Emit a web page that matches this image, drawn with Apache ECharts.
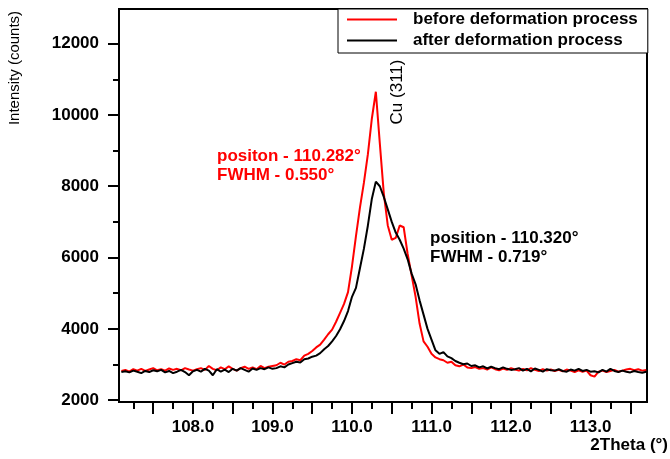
<!DOCTYPE html>
<html>
<head>
<meta charset="utf-8">
<script src="https://cdn.jsdelivr.net/npm/echarts@6/dist/echarts.min.js"></script>
<style>
  html, body { margin: 0; padding: 0; background: #fff; }
  #chart { width: 670px; height: 459px; }
</style>
</head>
<body>
<div id="chart"></div>
<script>
// 2theta scan points (step 0.05)
const twoTheta = [
  107.10, 107.15, 107.20, 107.25, 107.30, 107.35, 107.40, 107.45, 107.50, 107.55,
  107.60, 107.65, 107.70, 107.75, 107.80, 107.85, 107.90, 107.95, 108.00,
  108.05, 108.10, 108.15, 108.20, 108.25, 108.30, 108.35, 108.40, 108.45, 108.50,
  108.55, 108.60, 108.65, 108.70, 108.75, 108.80, 108.85, 108.90, 108.95, 109.00,
  109.05, 109.10, 109.15, 109.20, 109.25, 109.30, 109.35, 109.40, 109.45, 109.50,
  109.55, 109.60, 109.65, 109.70, 109.75, 109.80, 109.85, 109.90, 109.95, 110.00,
  110.05, 110.10, 110.15, 110.20, 110.25, 110.30, 110.35, 110.40, 110.45, 110.50,
  110.55, 110.60, 110.65, 110.70, 110.75, 110.80, 110.85, 110.90, 110.95, 111.00,
  111.05, 111.10, 111.15, 111.20, 111.25, 111.30, 111.35, 111.40, 111.45, 111.50,
  111.55, 111.60, 111.65, 111.70, 111.75, 111.80, 111.85, 111.90, 111.95, 112.00,
  112.05, 112.10, 112.15, 112.20, 112.25, 112.30, 112.35, 112.40, 112.45, 112.50,
  112.55, 112.60, 112.65, 112.70, 112.75, 112.80, 112.85, 112.90, 112.95, 113.00,
  113.05, 113.10, 113.15, 113.20, 113.25, 113.30, 113.35, 113.40, 113.45, 113.50,
  113.55, 113.60, 113.65, 113.70
]

// before deformation process (red)
const beforeCounts = [
  2820, 2850, 2800, 2870, 2830, 2880, 2820, 2860, 2900, 2840,
  2870, 2830, 2890, 2850, 2880, 2840, 2900, 2860, 2830,
  2870, 2900, 2850, 2960, 2880, 2840, 2920, 2870, 2950, 2880,
  2830, 2900, 2940, 2880, 2920, 2870, 2960, 2900, 2940, 2960,
  2980, 3050, 3000, 3080, 3100, 3150, 3120, 3250, 3300, 3380,
  3480, 3560, 3700, 3850, 3980, 4200, 4450, 4700, 5030, 5750,
  6600, 7400, 8100, 8900, 9900, 10650, 9200, 7800, 6900, 6500,
  6550, 6900, 6850, 6100, 5500, 4900, 4150, 3650, 3500, 3300,
  3200, 3150, 3120, 3050, 3080, 2980, 2950, 3000, 2920, 2900,
  2930, 2880, 2900, 2860, 2920, 2870, 2840, 2890, 2850, 2900,
  2860, 2830, 2880, 2840, 2900, 2850, 2820, 2870, 2830, 2860,
  2820, 2850, 2810, 2860, 2830, 2790, 2840, 2800, 2830, 2700,
  2660, 2800, 2830, 2790, 2820, 2850, 2800, 2830, 2860, 2880,
  2840, 2870, 2830, 2850
]

// after deformation process (black)
const afterCounts = [
  2790, 2810, 2780, 2830, 2800, 2760, 2820, 2790, 2840, 2810,
  2850, 2780, 2820, 2760, 2800, 2850, 2790, 2700, 2810,
  2850, 2800, 2880, 2830, 2700, 2870, 2800, 2860, 2790, 2880,
  2830, 2900, 2850, 2800, 2890, 2850, 2900, 2870, 2920, 2880,
  2900, 2950, 2920, 3000, 3040, 3080, 3060, 3150, 3170, 3220,
  3250, 3320, 3430, 3520, 3650, 3800, 3990, 4220, 4500, 4900,
  5150, 5700, 6250, 6900, 7650, 8130, 8000, 7700, 7350, 7000,
  6700, 6500, 6250, 5950, 5550, 5250, 4800, 4400, 4000, 3700,
  3400, 3300, 3350, 3230, 3180, 3100, 3050, 3010, 3030, 2960,
  2980, 2920, 2950, 2890, 2940, 2900, 2870, 2920, 2880, 2850,
  2870, 2900, 2830, 2880, 2810, 2890, 2850, 2800, 2870, 2840,
  2830, 2870, 2820, 2800, 2860, 2830, 2880, 2820, 2850, 2800,
  2810, 2780, 2850, 2800, 2880, 2820, 2790, 2830, 2800, 2780,
  2820, 2790, 2770, 2800
]

const xLabels = [108, 109, 110, 111, 112, 113]
const xMajorTicks = [107.5, 108, 108.5, 109, 109.5, 110, 110.5, 111, 111.5, 112, 112.5, 113, 113.5]
const xMinorTicks = [107.25, 107.75, 108.25, 108.75, 109.25, 109.75, 110.25, 110.75, 111.25, 111.75, 112.25, 112.75, 113.25]
const yLabels = [2000, 4000, 6000, 8000, 10000, 12000]
const yMinorTicks = [3000, 5000, 7000, 9000, 11000]

const legendNames = ['before deformation process', 'after deformation process']

const font = '"Liberation Sans", Arial, sans-serif'

const pairs = (ys) => twoTheta.map((x, i) => [x, ys[i]])

const xRange = { min: 107.07, max: 113.71 }
const yRange = { min: 1950, max: 12970 }

let myChart = echarts.init(document.getElementById('chart'))
const option = {
  animation: false,
  grid: {
    left: 119,
    right: 23,
    top: 9,
    bottom: 57,
    show: true,
    borderColor: '#000',
    borderWidth: 2,
  },
  legend: {
    data: legendNames,
    orient: 'vertical',
    left: 338,
    top: 9,
    // plain line sample, no symbol
    icon: 'path://M0,0H50V2H0Z',
    symbolKeepAspect: true,
    itemWidth: 50,
    itemHeight: 14,
    itemGap: 4,
    padding: [2, 10, 4, 9],
    borderColor: '#000',
    borderWidth: 1,
    backgroundColor: '#fff',
    textStyle: {
      fontFamily: font,
      fontWeight: 'bold',
      fontSize: 17,
      lineHeight: 17,
      color: '#000',
      padding: [0, 0, 0, 11],
    },
  },
  xAxis: [
    {
      type: 'value',
      min: xRange.min,
      max: xRange.max,
      position: 'bottom',
      axisLine: { onZero: false, lineStyle: { color: '#000', width: 2 } },
      axisTick: { length: 12, lineStyle: { color: '#000', width: 2 }, customValues: xMajorTicks },
      axisLabel: {
        customValues: xLabels,
        margin: 17,
        color: '#000',
        fontFamily: font,
        fontWeight: 'bold',
        fontSize: 17,
        formatter: (v) => v.toFixed(1),
      },
      splitLine: { show: false },
    },
    {
      // minor ticks only
      type: 'value',
      min: xRange.min,
      max: xRange.max,
      position: 'bottom',
      axisLine: { show: false, onZero: false },
      axisTick: { length: 7, lineStyle: { color: '#000', width: 2 }, customValues: xMinorTicks },
      axisLabel: { show: false },
      splitLine: { show: false },
    },
  ],
  yAxis: [
    {
      type: 'value',
      min: yRange.min,
      max: yRange.max,
      position: 'left',
      axisLine: { show: true, onZero: false, lineStyle: { color: '#000', width: 2 } },
      axisTick: { show: true, length: 11, lineStyle: { color: '#000', width: 2 }, customValues: yLabels },
      axisLabel: {
        customValues: yLabels,
        margin: 20,
        color: '#000',
        fontFamily: font,
        fontWeight: 'bold',
        fontSize: 17,
        formatter: (v) => String(v),
      },
      splitLine: { show: false },
    },
    {
      type: 'value',
      min: yRange.min,
      max: yRange.max,
      position: 'left',
      axisLine: { show: false, onZero: false },
      axisTick: { show: true, length: 6, lineStyle: { color: '#000', width: 2 }, customValues: yMinorTicks },
      axisLabel: { show: false },
      splitLine: { show: false },
    },
  ],
  graphic: [
    {
      type: 'text',
      x: 15,
      y: 68,
      rotation: Math.PI / 2,
      style: {
        text: 'Intensity (counts)',
        fill: '#000',
        font: '15px ' + font,
        textAlign: 'center',
        textVerticalAlign: 'middle',
      },
    },
    {
      type: 'text',
      x: 668,
      y: 445,
      style: {
        text: '2Theta (°)',
        fill: '#000',
        font: 'bold 17px ' + font,
        textAlign: 'right',
        textVerticalAlign: 'middle',
      },
    },
    {
      type: 'text',
      x: 397,
      y: 92,
      rotation: Math.PI / 2,
      style: {
        text: 'Cu (311)',
        fill: '#000',
        font: '17px ' + font,
        textAlign: 'center',
        textVerticalAlign: 'middle',
      },
    },
    {
      type: 'text',
      x: 217,
      y: 156,
      style: { text: 'positon - 110.282°', fill: '#ff0000', font: 'bold 17px ' + font, textVerticalAlign: 'middle' },
    },
    {
      type: 'text',
      x: 217,
      y: 175,
      style: { text: 'FWHM - 0.550°', fill: '#ff0000', font: 'bold 17px ' + font, textVerticalAlign: 'middle' },
    },
    {
      type: 'text',
      x: 430,
      y: 238,
      style: { text: 'position - 110.320°', fill: '#000', font: 'bold 17px ' + font, textVerticalAlign: 'middle' },
    },
    {
      type: 'text',
      x: 430,
      y: 257,
      style: { text: 'FWHM - 0.719°', fill: '#000', font: 'bold 17px ' + font, textVerticalAlign: 'middle' },
    },
  ],
  series: [
    {
      name: legendNames[0],
      type: 'line',
      symbol: 'none',
      color: '#ff0000',
      lineStyle: { width: 2, color: '#ff0000' },
      data: pairs(beforeCounts),
    },
    {
      name: legendNames[1],
      type: 'line',
      symbol: 'none',
      color: '#000',
      lineStyle: { width: 2, color: '#000' },
      data: pairs(afterCounts),
    },
  ],
}
myChart.setOption(option, true)
</script>
</body>
</html>
